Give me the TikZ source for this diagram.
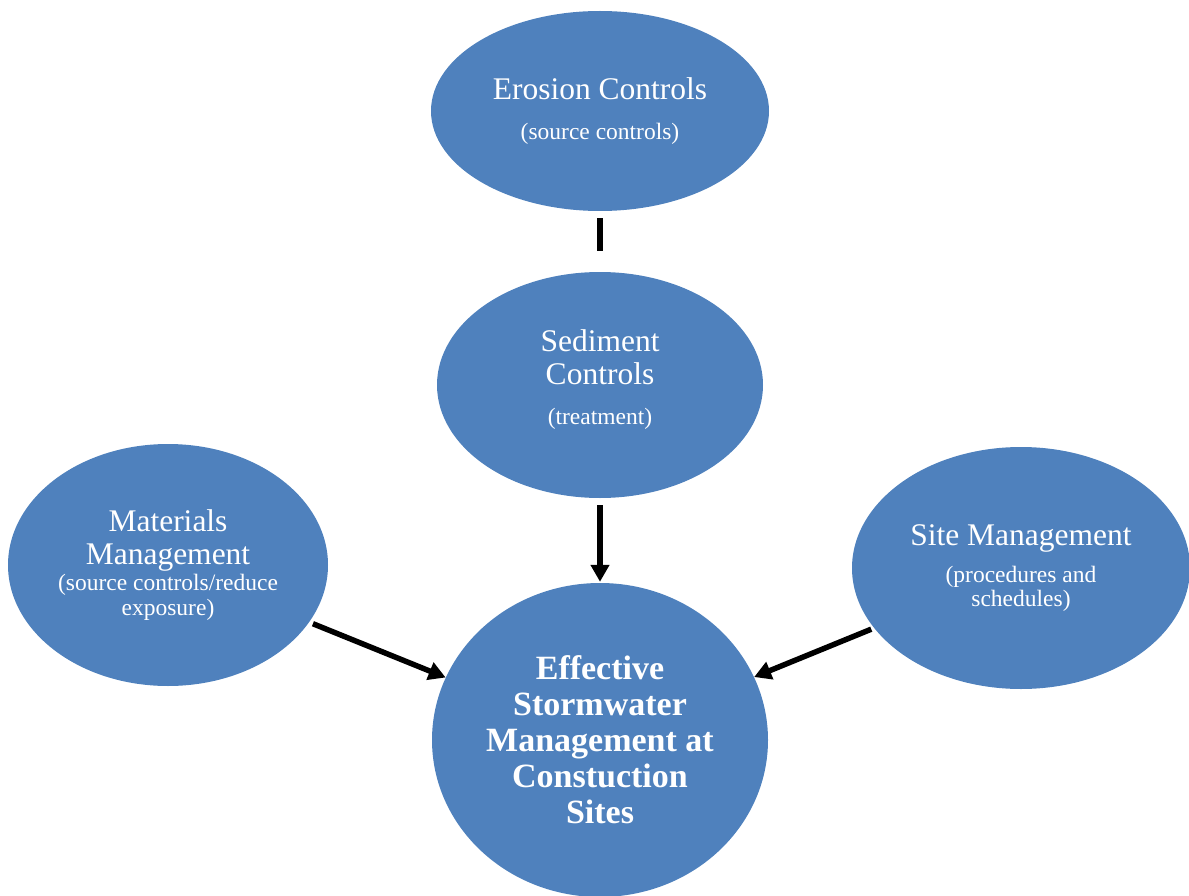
\documentclass[tikz,border=0pt]{standalone}
\usepackage{fontspec}
\setmainfont{Liberation Serif}
\usetikzlibrary{shapes.geometric,arrows.meta}
\definecolor{bubble}{HTML}{4F81BD}
\newcommand{\subtext}[1]{{\fontsize{23.5}{25}\selectfont #1}}

\begin{document}
\begin{tikzpicture}
  [x=1pt, y=-1pt,
   blob/.style={ellipse, fill=bubble, text=white, inner sep=0pt, align=center,
     font=\fontsize{31.5}{33}\selectfont},
   link/.style={line width=5.5pt},
   arrow/.style={line width=5.5pt, -{Triangle[length=17pt,width=18pt]}}]
  \clip (0,0) rectangle (1189,896);
  \node[blob, minimum width=338pt, minimum height=200pt] (erosion) at (600,111)
    {Erosion Controls\\[7pt]\subtext{(source controls)}};
  \node[blob, minimum width=326pt, minimum height=226pt] (sediment) at (600,385)
    {Sediment\\Controls\\[7pt]\subtext{(treatment)}\\[-18pt]\mbox{}};
  \node[blob, minimum width=320pt, minimum height=242pt] (materials) at (168,565)
    {Materials\\Management\\[-7pt]\subtext{(source controls/reduce}\\[-8pt]\subtext{exposure)}};
  \node[blob, minimum width=338pt, minimum height=242pt] (site) at (1021,568)
    {Site Management\\[4pt]\subtext{(procedures and}\\[-9pt]\subtext{schedules)}};
  \node[blob, minimum width=336pt, minimum height=314pt,
    font=\fontsize{34}{36}\selectfont\bfseries] (goal) at (600,740)
    {Effective\\Stormwater\\Management at\\Constuction\\Sites};
  \draw[link, shorten <=7pt, shorten >=21pt] (erosion) -- (sediment);
  \draw[arrow, shorten <=7pt, shorten >=1pt] (sediment) -- (goal);
  \draw[arrow, shorten <=4pt] (materials) -- (goal);
  \draw[arrow, shorten <=3pt] (site) -- (goal);
\end{tikzpicture}
\end{document}
